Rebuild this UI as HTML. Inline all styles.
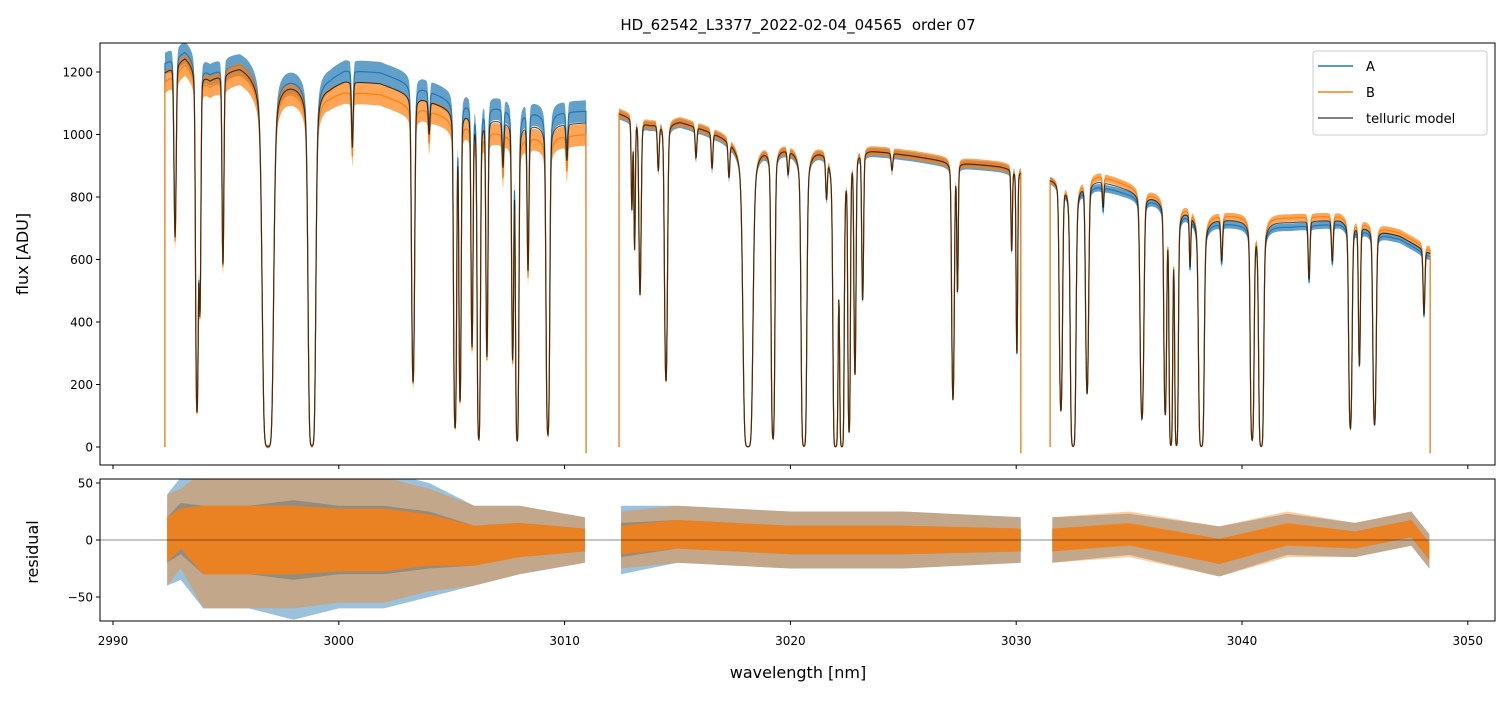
<!DOCTYPE html>
<html><head><meta charset="utf-8"><style>
body{margin:0;background:#fff}
svg text{font-family:"DejaVu Sans","Liberation Sans",sans-serif;fill:#000}
</style></head><body>
<svg id="c" width="1510" height="696" xmlns="http://www.w3.org/2000/svg">
<defs>
<clipPath id="clipTop"><rect x="100" y="43" width="1395" height="422"/></clipPath>
<clipPath id="clipBot"><rect x="100" y="479" width="1395" height="142"/></clipPath>
</defs>
<rect width="1510" height="696" fill="#fff"/>
<text x="798" y="30" text-anchor="middle" font-size="15" style="white-space:pre">HD_62542_L3377_2022-02-04_04565  order 07</text>
<g id="topPlot" clip-path="url(#clipTop)"></g>
<g id="botPlot" clip-path="url(#clipBot)"></g>
<g id="axes"></g>
<text transform="translate(28,254) rotate(-90)" text-anchor="middle" font-size="16">flux [ADU]</text>
<text transform="translate(38,552) rotate(-90)" text-anchor="middle" font-size="16">residual</text>
<text x="798" y="678" text-anchor="middle" font-size="16">wavelength [nm]</text>
<g>
<rect x="1313" y="51" width="174" height="84" rx="3" fill="#fff" fill-opacity="0.8" stroke="#ccc"/>
<line x1="1318" y1="66" x2="1353" y2="66" stroke="#1f77b4" stroke-width="1.5"/>
<text x="1366" y="71" font-size="13">A</text>
<line x1="1318" y1="92" x2="1353" y2="92" stroke="#ff7f0e" stroke-width="1.5"/>
<text x="1366" y="97" font-size="13">B</text>
<line x1="1318" y1="118" x2="1353" y2="118" stroke="#555" stroke-width="1.5"/>
<text x="1366" y="123" font-size="13">telluric model</text>
</g>
</svg>
<script>
// ---- data ----
const segRanges = [[2992.30, 3010.95], [3012.41, 3030.21], [3031.50, 3048.33]];
const contNm = [
 [2992.30,2993.19,2994.30,2995.62,2998.28,2999.61,3000.27,3001.82,3002.93,3004.70,3006.92,3008.91,3010.95],
 [3012.41,3013.78,3015.11,3017.77,3019.98,3023.53,3027.07,3029.28,3030.21],
 [3031.50,3033.71,3036.15,3038.58,3042.13,3044.34,3046.99,3048.33]];
const contA = [
 [1230,1270,1200,1240,1190,1190,1210,1200,1170,1120,1090,1070,1075],
 [1065,1030,1040,980,960,950,910,895,880],
 [860,835,790,720,705,715,665,610]];
const contB = [
 [1170,1230,1160,1210,1150,1130,1140,1130,1100,1060,1010,990,1000],
 [1070,1035,1045,985,965,955,915,900,885],
 [860,870,810,745,735,740,685,630]];
const lineCenters = [2992.75,2993.72,2993.85,2994.87,2996.86,2998.81,3000.6,3003.29,3004.0,3005.15,3005.37,3005.9,3006.2,3006.56,3007.27,3007.7,3007.9,3008.38,3009.26,3010.1,
 3012.98,3013.1,3013.34,3014.15,3014.49,3015.82,3016.53,3017.28,3018.12,3019.23,3019.9,3020.6,3021.6,3022.0,3022.28,3022.6,3022.86,3023.2,3024.5,3027.2,3027.4,3029.8,3030.03,
 3031.98,3032.52,3033.14,3033.85,3035.57,3036.6,3036.85,3037.1,3037.7,3038.2,3039.1,3040.45,3040.85,3042.97,3044.0,3044.8,3045.2,3045.87,3048.06];
const lineTau = [0.6,2.4,1.0,0.72,7,6,0.2,1.7,0.1,2.9,2.0,1.2,3.8,1.3,0.15,1.3,4,0.6,3.3,0.12,
 0.32,0.5,0.76,0.15,1.6,0.1,0.12,0.12,7,3.6,0.08,6,0.15,7,7,3,1.4,0.7,0.06,1.8,0.6,0.35,1.1,
 2.0,6,1.6,0.1,2.2,2,5,5,0.25,6,0.2,3.5,6,0.3,0.2,2.5,1.0,2.3,0.4];
const lineWidth = [0.06,0.06,0.05,0.05,0.17,0.12,0.05,0.07,0.05,0.06,0.05,0.05,0.06,0.05,0.05,0.05,0.06,0.05,0.07,0.05,
 0.04,0.04,0.06,0.05,0.07,0.05,0.05,0.05,0.15,0.07,0.05,0.09,0.05,0.08,0.07,0.05,0.05,0.05,0.05,0.06,0.04,0.04,0.04,
 0.07,0.09,0.07,0.04,0.08,0.06,0.06,0.06,0.04,0.09,0.05,0.07,0.08,0.05,0.05,0.07,0.05,0.07,0.05];
const noiseAmp = [35, 15, 12];
const residNm = [2992.4,2993,2994,2996,2998,3000,3002,3004,3006,3008,3010.9, null,
 3012.5,3015,3020,3025,3030.2, null, 3031.6,3035,3039,3042,3045,3047.5,3048.3];
const residAmpA = [40,45,60,60,70,60,60,50,35,30,20,null,30,25,25,25,20,null,20,18,22,18,15,15,15];
const residAmpB = [40,35,60,60,60,55,55,45,35,30,20,null,25,25,25,25,20,null,20,20,22,20,15,15,15];
const residMean = [0,10,0,0,0,0,0,0,-5,0,0,null,0,5,0,0,0,null,0,5,-10,5,0,10,-10];
const xTicks = [2990,3000,3010,3020,3030,3040,3050];
const yTicksTop = [0,200,400,600,800,1000,1200];
const yTicksBot = [-50,0,50];

// ---- scales ----
const X = v => 113 + (v - 2990) * 22.58;
const YT = v => 447 - v * 0.3125;
const YB = v => 540 - v * 1.14;
const NS = 'http://www.w3.org/2000/svg';
function mk(tag, attrs, parent){const e=document.createElementNS(NS,tag);for(const k in attrs)e.setAttribute(k,attrs[k]);parent.appendChild(e);return e;}
function interp(xs, ys, x){ if(x<=xs[0])return ys[0]; for(let i=1;i<xs.length;i++){ if(x<=xs[i]){const t=(x-xs[i-1])/(xs[i]-xs[i-1]);return ys[i-1]+t*(ys[i]-ys[i-1]);} } return ys[ys.length-1]; }
function trans(w){ let t=0; for(let i=0;i<lineCenters.length;i++){ const d=(w-lineCenters[i])/lineWidth[i]; if(Math.abs(d)>40)continue; t+=lineTau[i]*(0.9*Math.exp(-d*d)+0.1/(1+d*d)); } return Math.exp(-t); }

const topG = document.getElementById('topPlot');
const botG = document.getElementById('botPlot');
const sets = [{c:contA,col:'#1f77b4',name:'a'},{c:contB,col:'#ff7f0e',name:'b'}];
const step = 0.015;
sets.forEach(s=>{
  segRanges.forEach((r,si)=>{
    let up=[],dn=[],ln=[];
    for(let w=r[0]; w<=r[1]; w+=step){
      const C=interp(contNm[si],s.c[si],w), T=trans(w), f=C*T, n=noiseAmp[si]*Math.sqrt(Math.max(T,0.02));
      up.push(X(w).toFixed(2)+','+YT(f+n).toFixed(2)); dn.unshift(X(w).toFixed(2)+','+YT(f-n).toFixed(2)); ln.push(X(w).toFixed(2)+','+YT(f).toFixed(2));
    }
    const band = mk('polygon',{points:up.concat(dn).join(' '),fill:s.col,'fill-opacity':0.7},topG);
    
    
    const l = mk('polyline',{points:X(r[0]).toFixed(2)+','+YT(0)+' '+ln.join(' ')+' '+X(r[1]).toFixed(2)+','+YT(-20),fill:'none',stroke:s.col,'stroke-width':1.2},topG);
    
    
  });
});
// model
segRanges.forEach((r,si)=>{
  let ln=[];
  for(let w=r[0]; w<=r[1]; w+=step){
    const C=(interp(contNm[si],contA[si],w)+interp(contNm[si],contB[si],w))/2;
    ln.push(X(w).toFixed(2)+','+YT(C*trans(w)).toFixed(2));
  }
  const m = mk('polyline',{points:ln.join(' '),fill:'none',stroke:'#000','stroke-opacity':0.7,'stroke-width':1.1},topG);
  
  
});
// residuals
[[residAmpA,'#1f77b4','a',[0.45,0.6]],[residAmpB,'#ff7f0e','b',[0.4,0.8]]].forEach(([amp,col,nm,ops])=>{
  let groups=[[]];
  residNm.forEach((w,i)=>{ if(w===null){groups.push([]);} else groups[groups.length-1].push(i); });
  groups.forEach(g=>{
    [[1,ops[0]],[0.5,ops[1]]].forEach(([k,op])=>{
      const up=g.map(i=>X(residNm[i]).toFixed(2)+','+YB(residMean[i]+amp[i]*k).toFixed(2));
      const dn=g.slice().reverse().map(i=>X(residNm[i]).toFixed(2)+','+YB(residMean[i]-amp[i]*k).toFixed(2));
      const p = mk('polygon',{points:up.concat(dn).join(' '),fill:col,'fill-opacity':op},botG);
      
      
    });
  });
});
const zl = mk('line',{x1:100,x2:1495,y1:YB(0),y2:YB(0),stroke:'#000','stroke-opacity':0.6,'stroke-width':0.8},botG);



// axes
const ax = document.getElementById('axes');
[[43,465],[479,621]].forEach(([y0,y1],k)=>{
  const fr = mk('rect',{x:100,y:y0,width:1395,height:y1-y0,fill:'none',stroke:'#000','stroke-width':1},ax);
  
  
  xTicks.forEach(v=>{
    const t = mk('line',{x1:X(v),x2:X(v),y1:y1,y2:y1+4,stroke:'#000'},ax);
    
    
  });
});
xTicks.forEach(v=>{
  const t = mk('text',{x:X(v),y:645,'text-anchor':'middle','font-size':12},ax);
  t.textContent=v;
  
  
});
yTicksTop.forEach(v=>{
  const l = mk('line',{x1:96,x2:100,y1:YT(v),y2:YT(v),stroke:'#000'},ax);
  
  
  const t = mk('text',{x:93,y:YT(v)+4.5,'text-anchor':'end','font-size':12},ax);
  t.textContent=v;
  
  
});
yTicksBot.forEach(v=>{
  const l = mk('line',{x1:96,x2:100,y1:YB(v),y2:YB(v),stroke:'#000'},ax);
  
  
  const t = mk('text',{x:93,y:YB(v)+4.5,'text-anchor':'end','font-size':12},ax);
  t.textContent=v===-50?'\u221250':v;
  
  
});
</script>
</body></html>
